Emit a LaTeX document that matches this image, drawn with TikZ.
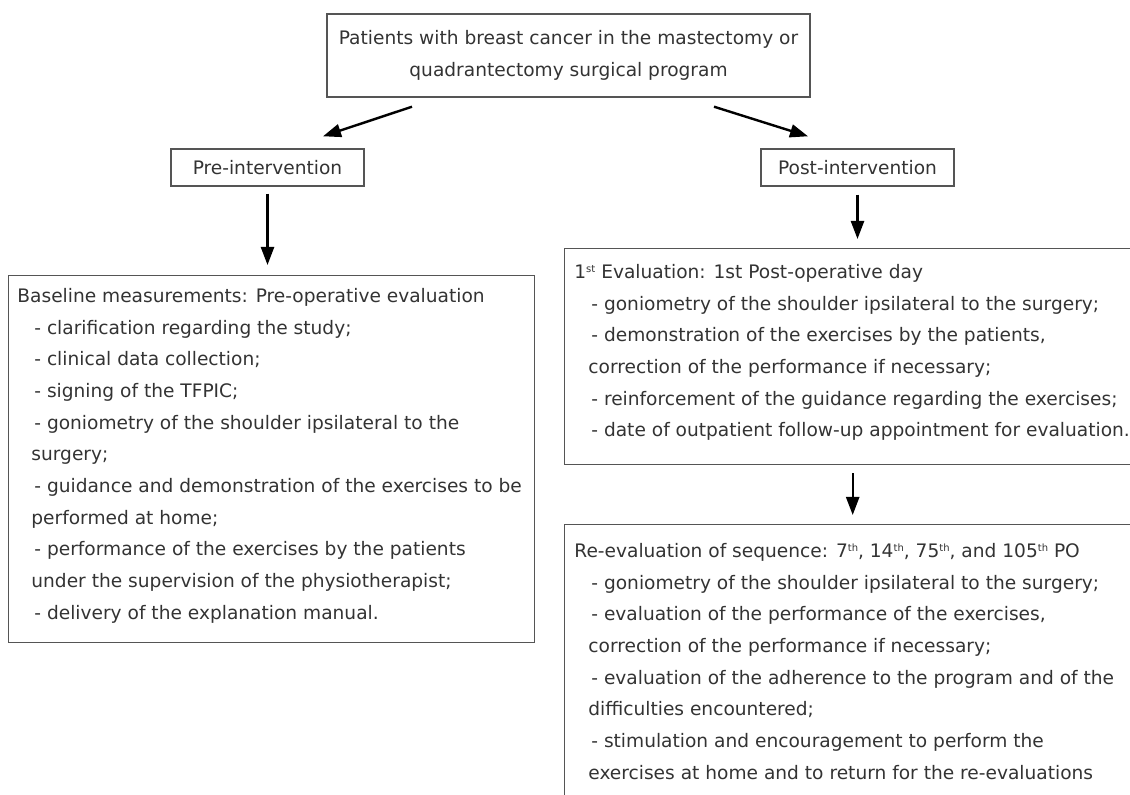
\documentclass[tikz,border=0pt]{standalone}
\usepackage{fontspec}
\setmainfont{DejaVu Sans}
\usetikzlibrary{arrows.meta}
\definecolor{txtgray}{HTML}{333333}
\definecolor{boxgray}{HTML}{555555}
\newcommand{\dashitem}{\hspace*{8.5pt}- }
\newcommand{\contline}{\hspace*{7pt}}
\newcommand{\ordsup}[1]{\raisebox{0.62ex}{\fontsize{5}{5}\selectfont #1}}

\begin{document}
\begin{tikzpicture}[x=0.5pt, y=-0.5pt,
    box/.style={draw=boxgray, line width=0.7pt, inner sep=0pt},
    txt/.style={text=txtgray, font=\fontsize{9.3}{15.85}\selectfont, inner sep=0pt},
    arr/.style={line width=1.2pt, -{Triangle[length=9pt,width=6.5pt]}}]
\useasboundingbox (0,0) rectangle (1130,795);
\clip (0,0) rectangle (1130,795);
% top and the two branches
\node[box, txt, align=center, minimum width=241.5pt, minimum height=41.5pt]
    (patients) at (568.5,55.5)
    {Patients with breast cancer in the mastectomy or\\quadrantectomy surgical program};
\node[box, txt, minimum width=96.5pt, minimum height=18.5pt]
    (pre) at (267.5,167.5) {Pre-intervention};
\node[box, txt, minimum width=96.5pt, minimum height=18.5pt]
    (post) at (857.5,167.5) {Post-intervention};
% frames
\node[box, anchor=north west, minimum width=263pt, minimum height=183.5pt]
    (baseline) at (8,275) {};
\node[box, anchor=north west, minimum width=288pt, minimum height=108pt]
    (first) at (564,248) {};
\node[box, anchor=north west, minimum width=288pt, minimum height=150pt]
    (reeval) at (564,524) {};
% texts
\node[txt, anchor=north west, align=left] (baselinetext)
    at ([shift={(9,9)}]baseline.north west)
    {\rule{0pt}{9pt}Baseline measurements: Pre-operative evaluation\\
     \dashitem clarification regarding the study;\\
     \dashitem clinical data collection;\\
     \dashitem signing of the TFPIC;\\
     \dashitem goniometry of the shoulder ipsilateral to the\\
     \contline surgery;\\
     \dashitem guidance and demonstration of the exercises to be\\
     \contline performed at home;\\
     \dashitem performance of the exercises by the patients\\
     \contline under the supervision of the physiotherapist;\\
     \dashitem delivery of the explanation manual.};
\node[txt, anchor=north west, align=left] (firsttext)
    at ([shift={(10,12)}]first.north west)
    {\rule{0pt}{9pt}1\ordsup{st} Evaluation: 1st Post-operative day\\
     \dashitem goniometry of the shoulder ipsilateral to the surgery;\\
     \dashitem demonstration of the exercises by the patients,\\
     \contline correction of the performance if necessary;\\
     \dashitem reinforcement of the guidance regarding the exercises;\\
     \dashitem date of outpatient follow-up appointment for evaluation.};
\node[txt, anchor=north west, align=left] (reevaltext)
    at ([shift={(10,15)}]reeval.north west)
    {\rule{0pt}{9pt}Re-evaluation of sequence: 7\ordsup{th}, 14\ordsup{th}, 75\ordsup{th}, and 105\ordsup{th} PO\\
     \dashitem goniometry of the shoulder ipsilateral to the surgery;\\
     \dashitem evaluation of the performance of the exercises,\\
     \contline correction of the performance if necessary;\\
     \dashitem evaluation of the adherence to the program and of the\\
     \contline difficulties encountered;\\
     \dashitem stimulation and encouragement to perform the\\
     \contline exercises at home and to return for the re-evaluations};
% arrows
\draw[arr] ([shift={(-156.5,9)}]patients.south) -- ([shift={(55.5,-12)}]pre.north);
\draw[arr] ([shift={(145.5,9)}]patients.south) -- ([shift={(-49.5,-12)}]post.north);
\draw[arr, shorten <=3.5pt, shorten >=5pt] (pre.south) -- (pre.south |- baseline.north);
\draw[arr, shorten <=4pt, shorten >=4.5pt] (post.south) -- (post.south |- first.north);
\draw[arr, shorten <=4pt, shorten >=4.5pt] (first.south) -- (reeval.north);
\end{tikzpicture}
\end{document}
